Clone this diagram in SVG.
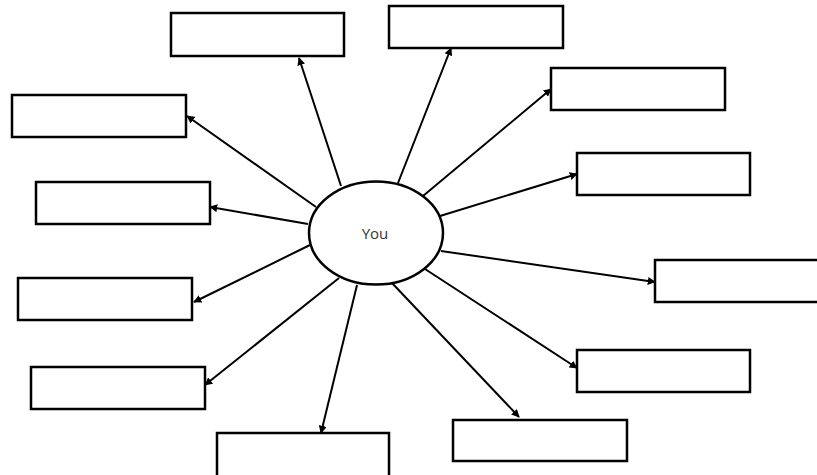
<svg xmlns="http://www.w3.org/2000/svg" width="817" height="475" viewBox="0 0 817 475">
<style>
.box{fill:#fff;stroke:#000;stroke-width:2.5}
.ell{fill:#fff;stroke:#000;stroke-width:2.5}
.con line{stroke:#000;stroke-width:2;marker-end:url(#ah)}
.lbl{font-family:"Open Sans","Liberation Sans",sans-serif;font-size:15px;fill:#333;text-anchor:middle}
</style>
<defs>
<marker id="ah" viewBox="0 0 10 10" refX="9" refY="5" markerWidth="4" markerHeight="4" orient="auto" markerUnits="strokeWidth">
<path d="M0,0 L10,5 L0,10 z" fill="#000"/>
</marker>
</defs>
<rect width="817" height="475" fill="#fff"/>
<g id="connectors" class="con">
<line x1="341" y1="186" x2="299" y2="58"/>
<line x1="398" y1="183" x2="451" y2="48"/>
<line x1="423" y1="196" x2="551" y2="89"/>
<line x1="440" y1="216" x2="577" y2="174"/>
<line x1="441" y1="251" x2="655" y2="282"/>
<line x1="425" y1="269" x2="577" y2="368"/>
<line x1="392" y1="283" x2="519" y2="417"/>
<line x1="357" y1="285" x2="321" y2="433"/>
<line x1="339" y1="278" x2="205" y2="385"/>
<line x1="310" y1="245" x2="194" y2="302"/>
<line x1="308" y1="224" x2="210" y2="207"/>
<line x1="316" y1="207" x2="187" y2="116"/>
</g>
<g id="center"><ellipse class="ell" cx="376" cy="233" rx="67" ry="51.5"/><text class="lbl" x="375" y="239">You</text></g>
<g id="box1"><rect class="box" x="171" y="13" width="173" height="43"/></g>
<g id="box2"><rect class="box" x="389" y="6" width="174" height="42"/></g>
<g id="box3"><rect class="box" x="551" y="68" width="174" height="42"/></g>
<g id="box4"><rect class="box" x="577" y="153" width="173" height="42"/></g>
<g id="box5"><rect class="box" x="655" y="260" width="174" height="42"/></g>
<g id="box6"><rect class="box" x="577" y="350" width="173" height="42"/></g>
<g id="box7"><rect class="box" x="453" y="420" width="174" height="41"/></g>
<g id="box8"><rect class="box" x="217" y="433" width="172" height="44"/></g>
<g id="box9"><rect class="box" x="31" y="367" width="174" height="42"/></g>
<g id="box10"><rect class="box" x="18" y="278" width="174" height="42"/></g>
<g id="box11"><rect class="box" x="36" y="182" width="174" height="42"/></g>
<g id="box12"><rect class="box" x="12" y="95" width="174" height="42"/></g>
</svg>
